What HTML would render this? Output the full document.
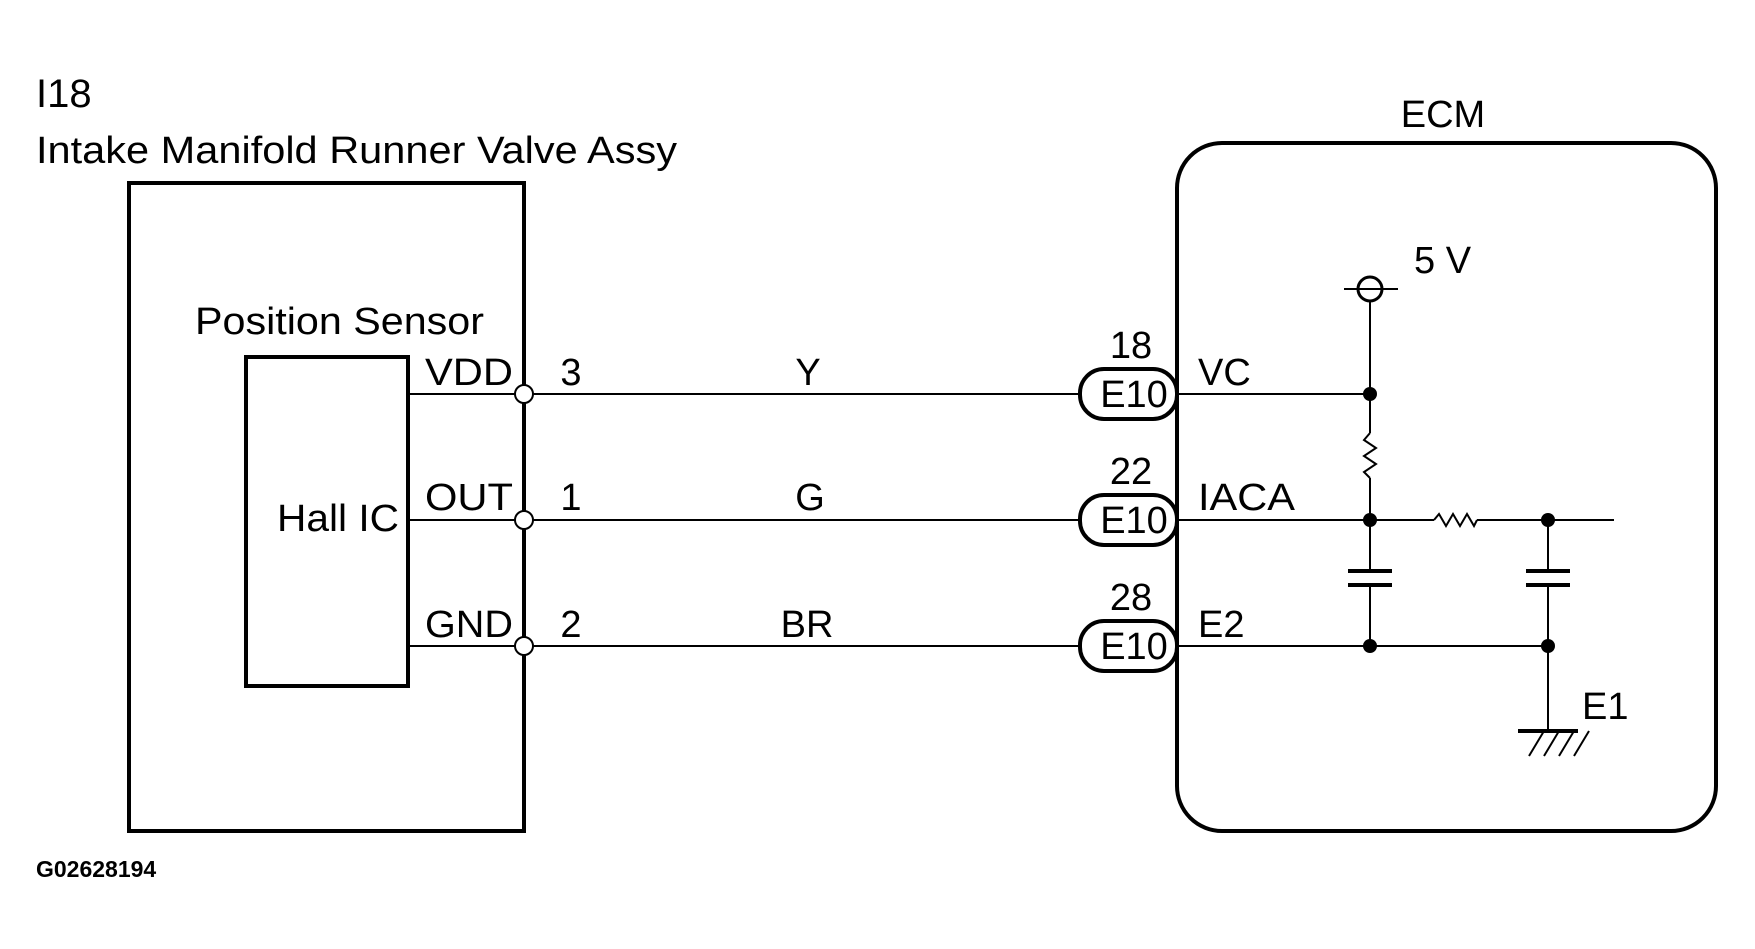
<!DOCTYPE html>
<html><head><meta charset="utf-8"><style>
html,body{margin:0;padding:0;background:#fff;}
svg{display:block;}
text{font-family:"Liberation Sans",Arial,sans-serif;fill:#000;}
</style></head><body>
<svg width="1755" height="949" viewBox="0 0 1755 949" xmlns="http://www.w3.org/2000/svg">
<g font-size="38">
<text x="36" y="107" font-size="40">I18</text>
<text x="36" y="163" textLength="641" lengthAdjust="spacingAndGlyphs">Intake Manifold Runner Valve Assy</text>
<text x="195" y="334" textLength="289" lengthAdjust="spacingAndGlyphs">Position Sensor</text>
<text x="277" y="531" textLength="122" lengthAdjust="spacingAndGlyphs">Hall IC</text>
<text x="425" y="385" textLength="88" lengthAdjust="spacingAndGlyphs">VDD</text>
<text x="425" y="510" textLength="88" lengthAdjust="spacingAndGlyphs">OUT</text>
<text x="425" y="637" textLength="88" lengthAdjust="spacingAndGlyphs">GND</text>
<text x="571" y="385" text-anchor="middle">3</text>
<text x="571" y="510" text-anchor="middle">1</text>
<text x="571" y="637" text-anchor="middle">2</text>
<text x="808" y="385" text-anchor="middle">Y</text>
<text x="810" y="510" text-anchor="middle">G</text>
<text x="807" y="637" text-anchor="middle">BR</text>
<text x="36" y="877" font-size="23" font-weight="bold">G02628194</text>
</g>
<g fill="none" stroke="#000">
<rect x="129" y="183" width="395" height="648" stroke-width="4"/>
<rect x="246" y="357" width="162" height="329" stroke-width="4"/>
<g stroke-width="2">
<line x1="408" y1="394" x2="1080" y2="394"/>
<line x1="408" y1="520" x2="1080" y2="520"/>
<line x1="408" y1="646" x2="1080" y2="646"/>
</g>
</g>
<g fill="#fff" stroke="#000" stroke-width="2">
<circle cx="524" cy="394" r="9"/>
<circle cx="524" cy="520" r="9"/>
<circle cx="524" cy="646" r="9"/>
</g>
<g transform="translate(-6,0)">
<g font-size="38">
<text x="1449" y="127" text-anchor="middle">ECM</text>
<text x="1137" y="358" text-anchor="middle">18</text>
<text x="1137" y="484" text-anchor="middle">22</text>
<text x="1137" y="610" text-anchor="middle">28</text>
<text x="1140" y="407" text-anchor="middle">E10</text>
<text x="1140" y="533" text-anchor="middle">E10</text>
<text x="1140" y="659" text-anchor="middle">E10</text>
<text x="1204" y="385">VC</text>
<text x="1204" y="510" textLength="97" lengthAdjust="spacingAndGlyphs">IACA</text>
<text x="1204" y="637">E2</text>
<text x="1420" y="273">5 V</text>
<text x="1588" y="719">E1</text>
</g>
<g fill="none" stroke="#000">
<rect x="1183" y="143" width="539" height="688" rx="45" stroke-width="4"/>
<g stroke-width="2">
<line x1="1183" y1="394" x2="1376" y2="394"/>
<line x1="1183" y1="520" x2="1440" y2="520"/>
<polyline points="1440,520 1445,514 1452,526 1459,514 1466,526 1473,514 1480,526 1483,520"/>
<line x1="1483" y1="520" x2="1620" y2="520"/>
<line x1="1183" y1="646" x2="1554" y2="646"/>
<line x1="1376" y1="301" x2="1376" y2="433"/>
<polyline points="1376,433 1370,440 1382,448 1370,456 1382,464 1370,472 1376,478"/>
<line x1="1376" y1="478" x2="1376" y2="571"/>
<line x1="1376" y1="585" x2="1376" y2="646"/>
<line x1="1554" y1="520" x2="1554" y2="571"/>
<line x1="1554" y1="585" x2="1554" y2="731"/>
<line x1="1350" y1="289" x2="1404" y2="289"/>
<line x1="1550" y1="731" x2="1535" y2="756"/>
<line x1="1565" y1="731" x2="1550" y2="756"/>
<line x1="1580" y1="731" x2="1565" y2="756"/>
<line x1="1595" y1="731" x2="1580" y2="756"/>
</g>
<g stroke-width="4">
<line x1="1354" y1="571" x2="1398" y2="571"/>
<line x1="1354" y1="585" x2="1398" y2="585"/>
<line x1="1532" y1="571" x2="1576" y2="571"/>
<line x1="1532" y1="585" x2="1576" y2="585"/>
<line x1="1524" y1="731" x2="1584" y2="731"/>
<circle cx="1376" cy="289" r="12" stroke-width="3"/>
<rect x="1086" y="369" width="97" height="50" rx="24"/>
<rect x="1086" y="495" width="97" height="50" rx="24"/>
<rect x="1086" y="621" width="97" height="50" rx="24"/>
</g>
</g>
<g fill="#000">
<circle cx="1376" cy="394" r="7"/>
<circle cx="1376" cy="520" r="7"/>
<circle cx="1376" cy="646" r="7"/>
<circle cx="1554" cy="520" r="7"/>
<circle cx="1554" cy="646" r="7"/>
</g>
</g>
</svg>
</body></html>
